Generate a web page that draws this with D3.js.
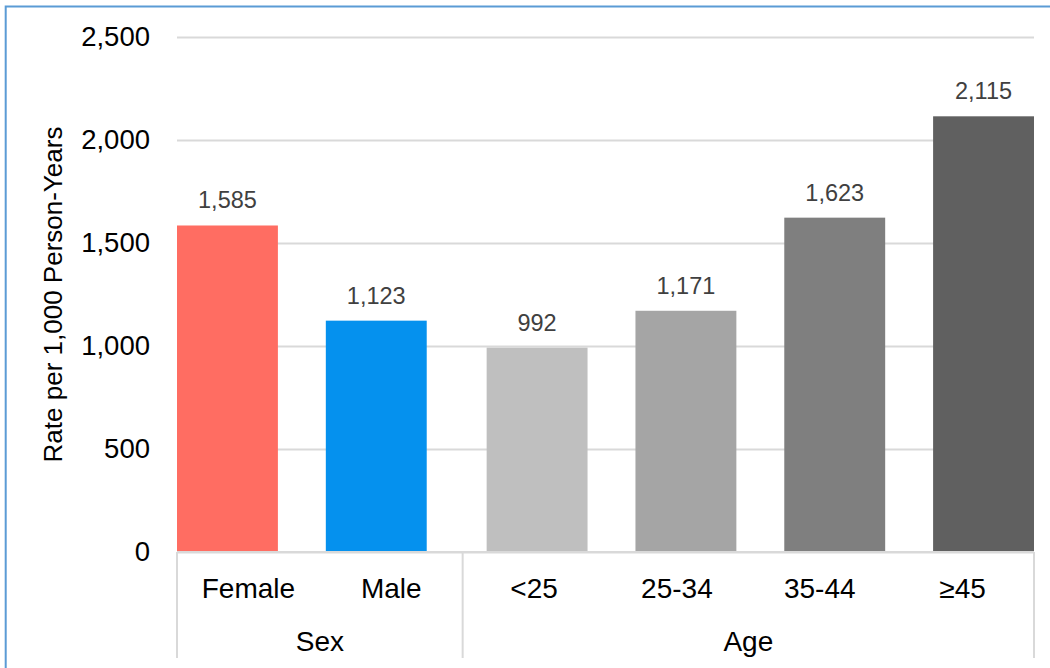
<!DOCTYPE html>
<meta charset="utf-8">
<head>
	<title>Rate per 1,000 Person-Years by Sex and Age</title>
</head>

<style>

body{
	margin: 0;
	background-color: #fff;
}

svg{
	display: block;
	font-family: "Liberation Sans", Arial, sans-serif;
}

.grid line{
	stroke: #d9d9d9;
	stroke-width: 2;
}

.ytick text{
	font-size: 27.5px;
	fill: #000;
}

</style>

<body>

<svg class="chart" width="1050" height="668"></svg>

<script src="https://cdnjs.cloudflare.com/ajax/libs/d3/7.8.5/d3.min.js"></script>
<script>

// data
var categories = ['Female', 'Male', '<25', '25-34', '35-44', '≥45'];
var groups = ['Sex', 'Sex', 'Age', 'Age', 'Age', 'Age'];
var groupNames = ['Sex', 'Age'];
var rates = [1585, 1123, 992, 1171, 1623, 2115];
var barColors = ['#ff6d62', '#0591ee', '#bfbfbf', '#a5a5a5', '#7f7f7f', '#606060'];
var yTicks = [0, 500, 1000, 1500, 2000, 2500];

// note: "top" is a read-only global in browsers, so use plot* names
var plotLeft = 177, plotRight = 1034, plotTop = 37, plotBottom = 552;
var groupGap = 12;

var svg = d3.select('.chart');

// outer frame (only top & left edges fall inside the picture)
svg.append('rect')
	.attr('x', 5.7)
	.attr('y', 6.5)
	.attr('width', 1100)
	.attr('height', 700)
	.attr('fill', 'none')
	.attr('stroke', '#5b9bd5')
	.attr('stroke-width', 2);

var y = d3.scaleLinear()
	.domain([0, 2500])
	.range([plotBottom, plotTop]);

// bars sit in their own band scale, labels in evenly spaced slots
var barX = d3.scaleBand()
	.domain(categories)
	.range([plotLeft, plotRight - groupGap])
	.paddingInner(0.322)
	.paddingOuter(0);

var slotX = d3.scaleBand()
	.domain(categories)
	.range([plotLeft, plotRight]);

function barLeft(d, i){
	return barX(d) + groupNames.indexOf(groups[i]) * groupGap;
}

// gridlines
svg.append('g')
	.attr('class', 'grid')
	.attr('transform', 'translate(' + plotLeft + ',0)')
	.call(d3.axisLeft(y).tickValues(yTicks).tickSize(-(plotRight - plotLeft)).tickFormat(''))
	.call(function(g){ g.select('.domain').remove(); });

// y tick labels
svg.append('g')
	.attr('class', 'ytick')
	.attr('transform', 'translate(' + plotLeft + ',0)')
	.call(d3.axisLeft(y).tickValues(yTicks).tickSize(0).tickPadding(27).tickFormat(d3.format(',')))
	.call(function(g){
		g.select('.domain').remove();
		g.selectAll('text').attr('font-family', null).attr('font-size', null);
	});

// y axis title
svg.append('text')
	.attr('transform', 'translate(62,' + ((plotTop + plotBottom) / 2) + ') rotate(-90)')
	.attr('text-anchor', 'middle')
	.style('font-size', '26px')
	.style('fill', '#000')
	.text('Rate per 1,000 Person-Years');

// bars
svg.append('g')
	.selectAll('rect')
	.data(categories)
	.enter()
	.append('rect')
	.attr('x', barLeft)
	.attr('y', function(d, i){ return y(rates[i]); })
	.attr('width', barX.bandwidth())
	.attr('height', function(d, i){ return y(0) - y(rates[i]); })
	.attr('fill', function(d, i){ return barColors[i]; });

// value labels
svg.append('g')
	.selectAll('text')
	.data(categories)
	.enter()
	.append('text')
	.attr('x', function(d, i){ return barLeft(d, i) + barX.bandwidth() / 2; })
	.attr('y', function(d, i){ return y(rates[i]) - 17; })
	.attr('text-anchor', 'middle')
	.style('font-size', '23.5px')
	.style('fill', '#404040')
	.text(function(d, i){ return d3.format(',')(rates[i]); });

// category axis: base line, boxes, labels
var axisG = svg.append('g').attr('class', 'grid');

axisG.append('line')
	.attr('x1', plotLeft).attr('x2', plotRight)
	.attr('y1', plotBottom).attr('y2', plotBottom);

var groupEdges = [plotLeft];
groupNames.forEach(function(gname){
	var last = groups.lastIndexOf(gname);
	groupEdges.push(slotX(categories[last]) + slotX.bandwidth());
});

axisG.selectAll('.sep')
	.data(groupEdges)
	.enter()
	.append('line')
	.attr('class', 'sep')
	.attr('x1', function(d){ return d; })
	.attr('x2', function(d){ return d; })
	.attr('y1', plotBottom)
	.attr('y2', 658);

svg.append('g')
	.selectAll('text')
	.data(categories)
	.enter()
	.append('text')
	.attr('x', function(d){ return slotX(d) + slotX.bandwidth() / 2; })
	.attr('y', 598)
	.attr('text-anchor', 'middle')
	.style('font-size', '28px')
	.style('fill', '#000')
	.text(function(d){ return d; });

svg.append('g')
	.selectAll('text')
	.data(groupNames)
	.enter()
	.append('text')
	.attr('x', function(d, i){ return (groupEdges[i] + groupEdges[i + 1]) / 2; })
	.attr('y', 651)
	.attr('text-anchor', 'middle')
	.style('font-size', '28px')
	.style('fill', '#000')
	.text(function(d){ return d; });

</script>

</body>
</html>
